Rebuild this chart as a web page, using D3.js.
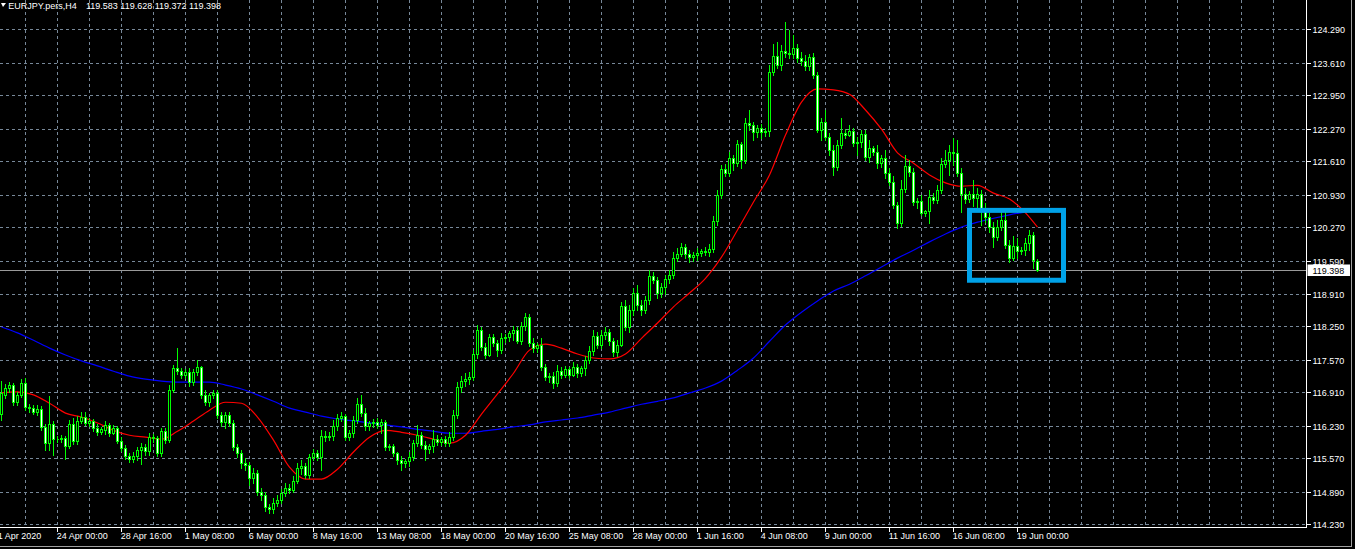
<!DOCTYPE html>
<html><head><meta charset="utf-8">
<script src="https://cdn.jsdelivr.net/npm/d3@7"></script>
<style>html,body{margin:0;padding:0;background:#000;overflow:hidden}</style>
</head><body>
<svg id="c" width="1355" height="549"></svg>
<script>
// ---------- DATA ----------
const symbolTitle = "EURJPY.pers,H4";
const lastQuote = [119.583, 119.628, 119.372, 119.398];
const bidPrice = 119.398;
const firstBar = -14; // bar index of the first candle (0 = 24 Apr 00:00)
// [open, high, low, close]
const candles = [
[116.47,117.14,116.35,116.90],[116.86,117.08,116.80,117.00],[117.00,117.12,116.92,117.06],[117.06,117.10,116.65,116.71],
[116.71,116.92,116.65,116.86],[116.86,117.18,116.82,117.10],[117.10,117.20,116.55,116.61],[116.61,116.67,116.51,116.59],
[116.59,116.65,116.47,116.51],[116.51,116.65,116.45,116.57],[116.57,116.63,116.14,116.21],[116.21,116.27,115.74,115.88],
[115.88,116.84,115.74,116.27],[116.27,116.33,115.64,115.96],
[115.97,116.02,115.90,115.96],[115.96,116.04,115.90,115.98],[115.98,116.02,115.55,115.82],[115.82,116.35,115.78,116.27],
[116.27,116.39,115.86,115.92],[115.92,116.43,115.86,116.33],[116.33,116.51,116.29,116.41],[116.41,116.51,116.25,116.29],
[116.29,116.39,116.23,116.33],[116.33,116.37,116.12,116.19],[116.19,116.27,116.04,116.10],[116.10,116.21,116.06,116.16],
[116.14,116.33,116.06,116.25],[116.25,116.29,116.02,116.08],[116.08,116.25,116.06,116.19],[116.19,116.23,115.88,115.92],
[115.92,116.00,115.72,115.78],[115.78,115.84,115.55,115.62],[115.62,115.68,115.49,115.55],[115.55,115.70,115.49,115.62],
[115.62,115.80,115.53,115.74],[115.74,115.88,115.45,115.80],[115.80,115.86,115.64,115.72],[115.72,116.08,115.64,116.00],
[116.00,116.06,115.90,115.98],[115.98,116.02,115.62,115.68],[115.68,116.19,115.62,116.12],[116.12,116.19,115.88,115.94],
[115.94,117.06,115.90,116.96],[116.96,117.47,116.92,117.40],[117.40,117.81,117.28,117.34],[117.34,117.40,117.20,117.26],
[117.26,117.38,117.20,117.32],[117.32,117.40,117.04,117.12],[117.12,117.38,117.06,117.32],[117.32,117.57,117.26,117.42],
[117.42,117.45,116.80,116.86],[116.86,116.96,116.65,116.71],[116.71,116.90,116.63,116.86],[116.86,116.96,116.80,116.90],
[116.90,116.96,116.39,116.45],[116.45,116.51,116.23,116.31],[116.31,116.51,116.19,116.45],[116.45,116.51,116.23,116.29],
[116.29,116.35,115.74,115.80],[115.80,115.86,115.60,115.68],[115.68,115.74,115.37,115.47],[115.47,115.57,115.33,115.43],
[115.43,115.49,115.03,115.17],[115.17,115.37,115.07,115.27],[115.27,115.33,114.82,114.88],[114.88,114.96,114.72,114.82],
[114.82,114.88,114.50,114.58],[114.58,114.64,114.46,114.54],[114.54,114.76,114.46,114.66],[114.66,114.82,114.60,114.72],
[114.72,114.94,114.66,114.86],[114.86,115.07,114.80,114.96],[114.96,115.05,114.86,114.92],[114.92,115.21,114.88,115.11],
[115.11,115.47,115.07,115.37],[115.37,115.53,115.25,115.41],[115.41,115.47,115.17,115.23],[115.23,115.66,115.17,115.60],
[115.60,115.76,115.53,115.68],[115.68,115.74,115.53,115.60],[115.60,116.14,115.33,116.02],[116.02,116.12,115.92,116.00],
[116.00,116.10,115.94,116.02],[116.02,116.35,115.94,116.23],[116.23,116.47,116.14,116.39],[116.39,116.51,116.33,116.43],
[116.43,116.47,115.94,116.00],[116.00,116.14,115.94,116.08],[116.08,116.43,116.00,116.35],[116.35,116.80,116.29,116.67],
[116.67,116.86,116.43,116.49],[116.49,116.59,116.14,116.23],[116.23,116.33,116.14,116.29],[116.29,116.37,116.21,116.31],
[116.31,116.39,116.19,116.25],[116.25,116.37,116.08,116.31],[116.31,116.35,115.74,115.80],[115.80,115.86,115.74,115.82],
[115.82,115.86,115.62,115.68],[115.68,115.70,115.45,115.53],[115.53,115.62,115.33,115.47],[115.47,115.55,115.39,115.51],
[115.51,115.70,115.41,115.60],[115.60,115.94,115.53,115.88],[115.88,116.25,115.82,116.04],[116.04,116.10,115.78,115.84],
[115.84,115.92,115.53,115.76],[115.76,115.86,115.68,115.82],[115.82,116.14,115.70,115.96],[115.96,116.04,115.84,115.90],
[115.90,116.00,115.84,115.96],[115.96,116.02,115.82,115.88],[115.88,116.10,115.82,116.00],[116.00,116.55,115.94,116.45],
[116.45,117.12,116.39,117.02],[117.02,117.24,116.92,117.14],[117.14,117.30,117.04,117.18],[117.18,117.32,117.08,117.22],
[117.22,117.77,117.16,117.69],[117.69,118.28,117.61,118.18],[118.18,118.24,117.77,117.83],[117.83,117.91,117.61,117.67],
[117.67,118.10,117.65,118.03],[118.03,118.10,117.85,117.91],[117.91,117.97,117.65,117.77],[117.77,118.12,117.71,118.01],
[118.01,118.10,117.93,118.03],[118.03,118.16,117.95,118.12],[118.12,118.26,117.97,118.18],[118.18,118.24,117.91,117.95],
[117.95,118.34,117.89,118.26],[118.26,118.52,118.18,118.44],[118.44,118.50,117.85,117.91],[117.91,118.01,117.73,117.81],
[117.81,117.91,117.73,117.87],[117.87,118.01,117.36,117.42],[117.42,117.49,117.16,117.22],[117.22,117.30,117.12,117.24],
[117.24,117.32,117.00,117.10],[117.10,117.47,117.04,117.34],[117.34,117.42,117.20,117.26],[117.26,117.45,117.22,117.38],
[117.38,117.42,117.20,117.26],[117.26,117.53,117.24,117.42],[117.42,117.49,117.22,117.30],[117.30,117.45,117.24,117.40],
[117.40,117.65,117.26,117.57],[117.57,117.85,117.51,117.75],[117.75,118.18,117.67,118.05],[118.05,118.14,117.81,117.87],
[117.87,118.18,117.81,118.08],[118.08,118.24,117.99,118.14],[118.14,118.20,117.87,117.95],[117.95,118.01,117.65,117.73],
[117.73,117.97,117.65,117.87],[117.87,118.75,117.85,118.66],[118.66,118.79,118.18,118.24],[118.24,118.69,118.14,118.58],
[118.58,119.03,118.48,118.93],[118.93,119.09,118.58,118.69],[118.69,118.79,118.48,118.58],[118.58,118.87,118.52,118.79],
[118.79,119.40,118.71,119.28],[119.28,119.36,119.13,119.19],[119.19,119.25,118.83,118.93],[118.93,119.13,118.85,119.05],
[119.05,119.30,118.91,119.21],[119.21,119.40,119.13,119.30],[119.30,119.76,119.23,119.64],[119.64,119.84,119.58,119.72],
[119.72,119.94,119.68,119.86],[119.86,119.92,119.64,119.72],[119.72,119.80,119.56,119.66],[119.66,119.76,119.58,119.70],
[119.70,119.84,119.60,119.74],[119.74,119.82,119.68,119.78],[119.78,119.86,119.70,119.76],[119.76,119.92,119.68,119.82],
[119.82,120.49,119.76,120.39],[120.39,121.02,120.31,120.92],[120.92,121.53,120.86,121.45],[121.45,121.55,121.30,121.37],
[121.37,121.80,121.30,121.67],[121.67,121.73,121.43,121.57],[121.57,122.04,121.51,121.96],[121.96,122.00,121.47,121.63],
[121.63,122.49,121.57,122.39],[122.39,122.65,122.24,122.35],[122.35,122.41,122.04,122.20],[122.20,122.35,122.10,122.28],
[122.28,122.37,122.08,122.20],[122.20,122.28,122.12,122.22],[122.22,123.56,122.12,123.42],[123.42,123.99,123.36,123.75],
[123.75,124.03,123.50,123.56],[123.56,123.97,123.46,123.85],[123.85,124.44,123.73,123.81],[123.81,124.28,123.71,123.79],
[123.79,124.18,123.71,123.91],[123.91,123.99,123.63,123.71],[123.71,123.83,123.56,123.65],[123.65,123.77,123.46,123.54],
[123.54,123.79,123.46,123.73],[123.73,123.81,123.30,123.36],[123.36,123.42,122.20,122.24],[122.24,122.49,122.04,122.41],
[122.41,122.65,122.04,122.10],[122.10,122.18,121.73,121.84],[121.84,121.94,121.33,121.49],[121.49,122.04,121.43,121.94],
[121.94,122.49,121.88,122.18],[122.18,122.26,122.08,122.14],[122.14,122.35,122.12,122.22],[122.22,122.28,121.92,121.98],
[121.98,122.10,121.73,122.00],[122.00,122.24,121.90,122.16],[122.16,122.24,121.63,121.69],[121.69,122.04,121.59,121.88],
[121.88,121.92,121.73,121.80],[121.80,121.94,121.47,121.57],[121.57,121.73,121.49,121.67],[121.67,121.84,121.26,121.37],
[121.37,121.47,121.12,121.18],[121.18,121.30,120.66,120.72],[120.72,120.78,120.25,120.35],[120.35,121.23,120.29,121.04],
[121.04,121.73,120.98,121.51],[121.51,121.63,121.30,121.39],[121.39,121.47,120.72,120.78],[120.78,120.86,120.66,120.80],
[120.80,120.92,120.51,120.56],[120.56,120.62,120.49,120.60],[120.60,121.02,120.35,120.88],[120.88,120.96,120.76,120.82],
[120.82,121.12,120.76,121.02],[121.02,121.67,120.96,121.55],[121.55,121.84,121.49,121.63],[121.63,121.94,121.33,121.80],
[121.80,122.08,121.53,121.78],[121.78,122.04,121.30,121.37],[121.37,121.47,120.58,120.94],[120.94,121.06,120.76,120.84],
[120.84,121.00,120.78,120.94],[120.94,121.23,120.70,120.86],[120.86,121.06,120.62,120.94],[120.94,121.02,120.31,120.66],
[120.66,120.76,120.37,120.47],[120.47,120.56,120.17,120.27],[120.27,120.37,119.86,120.07],[120.07,120.41,120.01,120.27],
[120.27,120.62,120.21,120.41],[120.41,120.58,119.84,119.90],[119.90,120.01,119.56,119.64],[119.64,120.09,119.60,119.88],
[119.88,120.05,119.64,119.78],[119.78,119.86,119.72,119.80],[119.80,120.05,119.70,119.94],[119.94,120.21,119.80,120.11],
[120.11,120.17,119.44,119.60],[119.583,119.628,119.372,119.398]
];
// moving averages (bar index, price)
const maBars = [-14,-10,-6,-2,2,6,10,14,18,22,26,30,34,38,42,46,50,54,58,62,66,70,74,78,82,86,90,94,98,102,106,110,114,118,122,126,130,134,138,142,146,150,154,158,162,166,170,174,178,182,186,190,194,198,202,206,210,214,218,222,226,230,234,238,242,245];
const maRed = [116.90,116.92,116.86,116.69,116.49,116.41,116.29,116.14,116.04,116.00,
115.96,116.12,116.33,116.55,116.71,116.69,116.41,115.94,115.39,115.15,
115.15,115.35,115.70,116.00,116.14,116.10,116.04,115.96,115.88,116.04,
116.47,116.88,117.30,117.77,117.89,117.81,117.69,117.61,117.59,117.69,
118.01,118.32,118.65,118.93,119.23,119.66,120.21,120.78,121.33,122.14,
122.81,123.08,123.06,122.97,122.65,122.26,121.78,121.57,121.33,121.17,
121.10,121.12,120.96,120.84,120.56,120.27];
const maBlue = [118.24,118.12,117.97,117.81,117.67,117.55,117.45,117.34,117.24,117.18,
117.14,117.12,117.12,117.12,117.06,116.98,116.86,116.73,116.59,116.51,
116.43,116.37,116.33,116.29,116.25,116.21,116.16,116.12,116.08,116.08,
116.12,116.16,116.21,116.25,116.31,116.35,116.39,116.45,116.51,116.59,
116.67,116.73,116.80,116.90,117.00,117.14,117.36,117.61,117.95,118.28,
118.54,118.77,118.97,119.11,119.28,119.46,119.64,119.80,119.97,120.13,
120.27,120.37,120.45,120.52,120.58,120.62];
const timeTickBars = [-16,0,16,32,48,64,80,96,112,128,144,160,176,192,208,224,240];
const timeTickLabels = ["21 Apr 2020","24 Apr 00:00","28 Apr 16:00","1 May 08:00","6 May 00:00","8 May 16:00","13 May 08:00","18 May 00:00","20 May 16:00","25 May 08:00","28 May 00:00","1 Jun 16:00","4 Jun 08:00","9 Jun 00:00","11 Jun 16:00","16 Jun 08:00","19 Jun 00:00"];
const priceTicks = ["114.230","114.890","115.570","116.230","116.910","117.570","118.250","118.910","119.590","120.270","120.930","121.610","122.270","122.950","123.610","124.290"];
const highlight = {fromBar: 228, toBar: 251.5, high: 120.61, low: 119.19};

// ---------- DRAW ----------
const svg = d3.select('#c');
const plotRight = 1306.5, plotBottom = 527.5;
const FONT = '"Liberation Sans", Arial, sans-serif';
const GRID = '#778899';
const x = d3.scaleLinear().domain([0, 1]).range([57.5, 61.5]);
const y = d3.scaleLinear().domain([114.23, 124.29]).range([524.3, 29.3]);
const snap = v => Math.round(v) + 0.5;

svg.append('rect').attr('width', 1355).attr('height', 549).attr('fill', '#000');

// grid
const gridBars = d3.range(-16, 305, 8);
svg.append('g').selectAll('line').data(gridBars).join('line')
  .attr('x1', d => x(d)).attr('x2', d => x(d)).attr('y1', 0).attr('y2', plotBottom - 1)
  .attr('stroke', GRID).attr('stroke-dasharray', '3,3').attr('shape-rendering', 'crispEdges');
svg.append('g').selectAll('line').data(priceTicks).join('line')
  .attr('x1', 0).attr('x2', plotRight).attr('y1', d => snap(y(+d))).attr('y2', d => snap(y(+d)))
  .attr('stroke', GRID).attr('stroke-dasharray', '3,3').attr('shape-rendering', 'crispEdges');

// bid line
svg.append('line').attr('x1', 0).attr('x2', plotRight)
  .attr('y1', snap(y(bidPrice))).attr('y2', snap(y(bidPrice)))
  .attr('stroke', '#9a9a9a').attr('shape-rendering', 'crispEdges');

// moving averages
const maLine = d3.line().x(d => x(d[0])).y(d => y(d[1])).curve(d3.curveMonotoneX);
svg.append('path').datum(maBars.map((b, k) => [b, maBlue[k]])).attr('d', maLine)
  .attr('fill', 'none').attr('stroke', '#0000ff').attr('stroke-width', 1.2);
svg.append('path').datum(maBars.map((b, k) => [b, maRed[k]])).attr('d', maLine)
  .attr('fill', 'none').attr('stroke', '#ff0000').attr('stroke-width', 1.2);

// candles
const cg = svg.append('g').attr('shape-rendering', 'crispEdges');
candles.forEach((d, k) => {
  const [o, h, l, c] = d;
  const cx = x(firstBar + k);
  const yh = Math.round(y(h)), yl = Math.round(y(l));
  cg.append('line').attr('x1', cx).attr('x2', cx).attr('y1', yh).attr('y2', yl + 1).attr('stroke', '#00ff00');
  const top = Math.round(y(Math.max(o, c))), bot = Math.round(y(Math.min(o, c)));
  cg.append('path')
    .attr('d', `M${cx - 1},${top + 0.5}h2v${bot - top}h-2z`)
    .attr('fill', c < o ? '#ffffff' : '#000000')
    .attr('stroke', '#00ff00');
});

// highlight rectangle
svg.append('rect')
  .attr('x', x(highlight.fromBar)).attr('y', y(highlight.high))
  .attr('width', x(highlight.toBar) - x(highlight.fromBar))
  .attr('height', y(highlight.low) - y(highlight.high))
  .attr('fill', 'none').attr('stroke', '#00a2e8').attr('stroke-width', 5);

// axes frame
svg.append('line').attr('x1', plotRight).attr('x2', plotRight).attr('y1', 0).attr('y2', plotBottom)
  .attr('stroke', '#fff').attr('shape-rendering', 'crispEdges');
svg.append('line').attr('x1', 0).attr('x2', plotRight).attr('y1', plotBottom).attr('y2', plotBottom)
  .attr('stroke', '#fff').attr('shape-rendering', 'crispEdges');

// price axis
const pa = svg.append('g');
pa.selectAll('line').data(priceTicks).join('line')
  .attr('x1', plotRight).attr('x2', plotRight + 4).attr('y1', d => snap(y(+d))).attr('y2', d => snap(y(+d)))
  .attr('stroke', '#fff').attr('shape-rendering', 'crispEdges');
pa.selectAll('text').data(priceTicks).join('text')
  .attr('x', 1312.5).attr('y', d => snap(y(+d)) + 3.2)
  .attr('fill', '#fff').attr('font-family', FONT).attr('font-size', 9).text(d => d);

// bid label
svg.append('rect').attr('x', 1307.5).attr('y', snap(y(bidPrice)) - 6).attr('width', 42.5).attr('height', 11.5)
  .attr('fill', '#fff');
svg.append('text').attr('x', 1312.5).attr('y', snap(y(bidPrice)) + 3.2)
  .attr('fill', '#000').attr('font-family', FONT).attr('font-size', 9).text(bidPrice.toFixed(3));

// time axis
const ta = svg.append('g');
ta.selectAll('line').data(timeTickBars).join('line')
  .attr('x1', d => x(d)).attr('x2', d => x(d)).attr('y1', plotBottom).attr('y2', plotBottom + 4.5)
  .attr('stroke', '#fff').attr('shape-rendering', 'crispEdges');
ta.selectAll('text').data(timeTickBars).join('text')
  .attr('x', d => x(d) - 0.8).attr('y', 539)
  .attr('fill', '#fff').attr('font-family', FONT).attr('font-size', 9)
  .text((d, k) => timeTickLabels[k]);

// outer border
svg.append('line').attr('x1', 1351.5).attr('x2', 1351.5).attr('y1', 0).attr('y2', 547)
  .attr('stroke', '#a0a0a0').attr('shape-rendering', 'crispEdges');
svg.append('line').attr('x1', 0).attr('x2', 1352).attr('y1', 546.5).attr('y2', 546.5)
  .attr('stroke', '#a0a0a0').attr('shape-rendering', 'crispEdges');

// header
svg.append('path').attr('d', 'M1,3L6,3L3,7Z').attr('fill', '#fff');
svg.append('text').attr('x', 8.3).attr('y', 8.5).attr('fill', '#fff')
  .attr('font-family', FONT).attr('font-size', 9).text(symbolTitle);
svg.append('text').attr('x', 86).attr('y', 8.5).attr('fill', '#fff')
  .attr('font-family', FONT).attr('font-size', 9).text(lastQuote.map(v => v.toFixed(3)).join(' '));
</script>
</body></html>
